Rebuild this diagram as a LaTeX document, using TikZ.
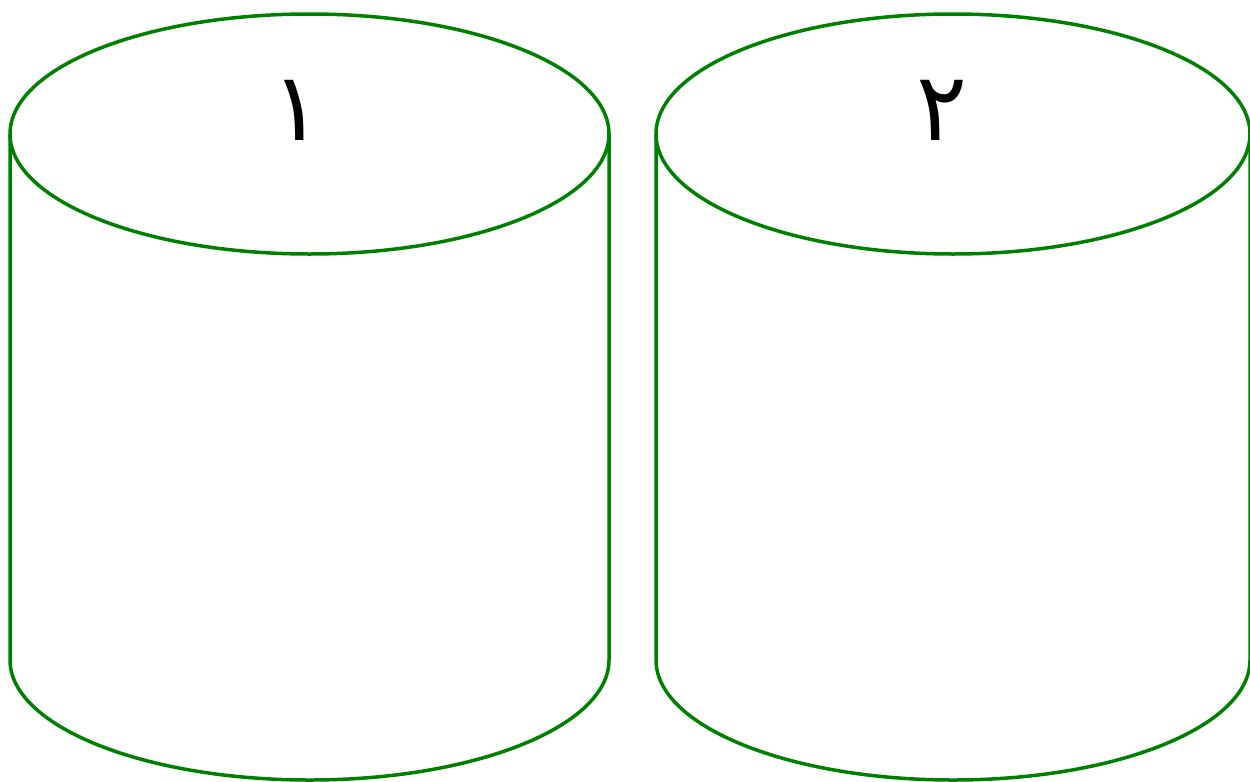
\documentclass[tikz,border=0pt]{standalone}
\usepackage{fontspec}
\newfontfamily\arabicfont[Script=Arabic]{DejaVu Sans}
\TeXXeTstate=1
\definecolor{diskgreen}{HTML}{008000}

\begin{document}
\begin{tikzpicture}[x=0.02cm, y=-0.02cm]
  \tikzset{drum/.style={diskgreen, line width=0.07cm},
    digit/.style={font=\arabicfont\fontsize{54}{64}\selectfont, inner sep=0pt}}
  \useasboundingbox (0,0) rectangle (1250,781);

  % first drum
  \draw[drum] (309.5,134) ellipse [x radius=299.5, y radius=120];
  \draw[drum] (10,134) -- (10,660) arc [start angle=180, end angle=360, x radius=299.5, y radius=-120] -- (609,134);
  \node[digit] (one) at (297,110) {\beginR ١\endR};

  % second drum, cut at the right border
  \draw[drum] (953,134) ellipse [x radius=297, y radius=120];
  \draw[drum] (656,134) -- (656,660) arc [start angle=180, end angle=360, x radius=297, y radius=-120] -- (1250,134);
  \node[digit] (two) at (942,110) {\beginR ٢\endR};
\end{tikzpicture}
\end{document}
